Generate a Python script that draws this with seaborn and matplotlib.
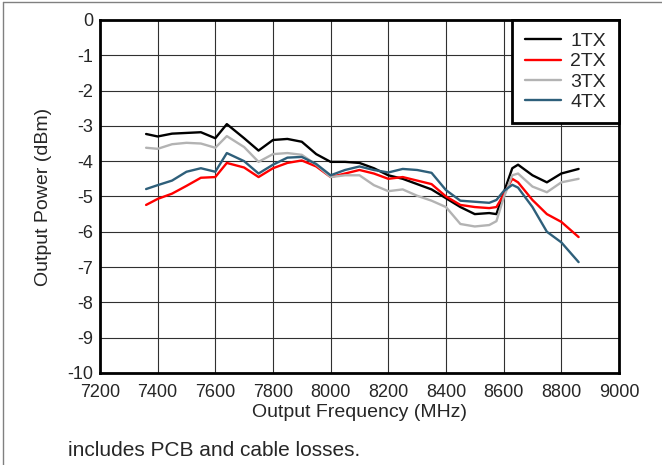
import numpy as np
import pandas as pd
import seaborn as sns
import matplotlib.pyplot as plt
from matplotlib.lines import Line2D

# frequency points (MHz) shared by all channels
freq = [7360, 7400, 7450, 7500, 7550, 7600, 7640, 7700, 7750, 7800, 7850,
        7900, 7950, 8000, 8050, 8100, 8150, 8200, 8250, 8300, 8350, 8400,
        8450, 8500, 8550, 8575, 8600, 8630, 8650, 8700, 8750, 8800, 8860]

tx1 = [-3.23, -3.30, -3.22, -3.20, -3.18, -3.35, -2.95, -3.35, -3.70, -3.40, -3.37,
       -3.45, -3.80, -4.02, -4.02, -4.05, -4.20, -4.40, -4.50, -4.65, -4.80, -5.05,
       -5.30, -5.50, -5.47, -5.50, -4.90, -4.20, -4.10, -4.40, -4.60, -4.35, -4.22]
tx2 = [-5.24, -5.07, -4.92, -4.70, -4.47, -4.45, -4.05, -4.18, -4.45, -4.20, -4.05,
       -3.98, -4.15, -4.45, -4.35, -4.25, -4.35, -4.50, -4.45, -4.55, -4.65, -5.00,
       -5.24, -5.30, -5.33, -5.30, -4.95, -4.50, -4.60, -5.10, -5.50, -5.72, -6.15]
tx3 = [-3.62, -3.65, -3.52, -3.48, -3.50, -3.62, -3.29, -3.60, -4.02, -3.80, -3.77,
       -3.82, -4.10, -4.45, -4.40, -4.40, -4.68, -4.85, -4.80, -4.98, -5.12, -5.30,
       -5.78, -5.85, -5.81, -5.70, -5.04, -4.40, -4.35, -4.72, -4.88, -4.60, -4.50]
tx4 = [-4.79, -4.68, -4.55, -4.30, -4.20, -4.30, -3.77, -4.00, -4.35, -4.10, -3.90,
       -3.88, -4.08, -4.40, -4.25, -4.15, -4.25, -4.32, -4.22, -4.25, -4.33, -4.82,
       -5.12, -5.15, -5.18, -5.10, -4.85, -4.67, -4.75, -5.30, -6.00, -6.30, -6.86]

labels = ['1TX', '2TX', '3TX', '4TX']
colors = ['#000000', '#FF0000', '#B3B3B3', '#2E5F7A']
xticks = np.arange(7200, 9001, 200)
yticks = np.arange(-10, 1, 1)

df = pd.DataFrame({'freq': freq * 4,
                   'power': tx1 + tx2 + tx3 + tx4,
                   'ch': np.repeat(labels, len(freq))})

sns.set_style('white')
plt.rcParams['font.family'] = ['Liberation Sans', 'DejaVu Sans']
plt.rcParams['axes.unicode_minus'] = False

fig = plt.figure(figsize=(6.62, 4.65), dpi=100)
ax = fig.add_axes([0.151, 0.198, 0.784, 0.759])

sns.lineplot(data=df, x='freq', y='power', hue='ch', palette=colors,
             linewidth=1.7, ax=ax)

ax.set_xlim(7200, 9000)
ax.set_ylim(-10, 0)
ax.set_xticks(xticks)
ax.set_yticks(yticks)
ax.tick_params(labelsize=13, length=0)
ax.tick_params(axis='x', pad=8)
ax.tick_params(axis='y', pad=5)
ax.grid(True, color='#303030', linewidth=0.8)
ax.set_axisbelow(True)
for s in ax.spines.values():
    s.set_color('black')
    s.set_linewidth(2)

ax.set_xlabel('Output Frequency (MHz)', fontsize=14, labelpad=2)
ax.set_ylabel('Output Power (dBm)', fontsize=14, labelpad=11)

leg = ax.legend(loc='upper right', fontsize=14, frameon=True, fancybox=False,
                borderaxespad=0, handlelength=1.85, labelspacing=0.13,
                borderpad=0.65, handletextpad=0.5)
leg.get_frame().set_edgecolor('black')
leg.get_frame().set_linewidth(2)
leg.get_frame().set_alpha(1)

fig.text(0.103, 0.02, 'includes PCB and cable losses.', fontsize=15)

# page border
fig.add_artist(Line2D([0.005, 0.005], [0, 0.996], color='#808080', linewidth=1))
fig.add_artist(Line2D([0.005, 1], [0.996, 0.996], color='#808080', linewidth=1))

fig.savefig('out.png', dpi=100)
